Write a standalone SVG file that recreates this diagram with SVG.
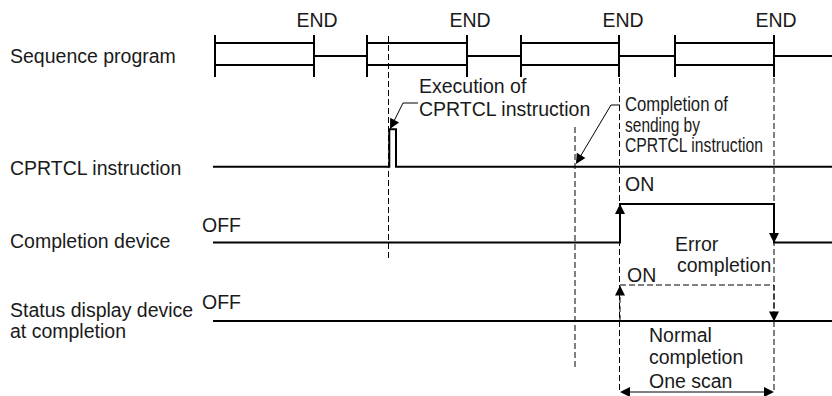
<svg xmlns="http://www.w3.org/2000/svg" width="832" height="396" viewBox="0 0 832 396">
<style>
text{font-family:"Liberation Sans",Arial,sans-serif;font-size:19.5px;fill:#1a1a1a}
.s{fill:none;stroke:#000;stroke-width:2}
.d{fill:none;stroke:#000;stroke-width:1;stroke-dasharray:6 3}
.t{fill:none;stroke:#000;stroke-width:1}
.ah{fill:#000}
</style>
<defs>
<path id="ah" d="M0,0 L-10,-5 L-10,5 Z"/>
</defs>
<rect width="832" height="396" fill="#fff"/>

<g id="labels">
<text x="10" y="63">Sequence program</text>
<text x="10" y="175">CPRTCL instruction</text>
<text x="10" y="248">Completion device</text>
<text x="10" y="317">Status display device</text>
<text x="10" y="338">at completion</text>
</g>

<g id="end-labels" text-anchor="middle">
<text x="317" y="27">END</text>
<text x="470" y="27">END</text>
<text x="623" y="27">END</text>
<text x="776" y="27">END</text>
</g>

<g id="guides">
<line class="d" x1="388.5" y1="36" x2="388.5" y2="258"/>
<line class="d" x1="575" y1="127" x2="575" y2="368"/>
<line class="d" x1="619.5" y1="78" x2="619.5" y2="392"/>
<line class="d" x1="774" y1="78" x2="774" y2="392"/>
</g>

<g id="sequence-program">
<path class="s" d="M215,43 H314 M215,65 H314 M314,56 H367 M367,43 H467 M367,65 H467 M467,56 H521 M521,43 H619 M521,65 H619 M619,56 H675 M675,43 H774 M675,65 H774 M774,56 H832"/>
<path class="s" d="M215,35 V77 M314,35 V77 M367,35 V77 M467,35 V77 M521,35 V77 M619,35 V77 M675,35 V77 M774,35 V77"/>
</g>

<g id="cprtcl-instruction">
<path class="s" d="M213,166.7 H389.3 V129.3 H396 V166.7 H832"/>
</g>

<g id="completion-device">
<text x="202" y="232">OFF</text>
<text x="625" y="191">ON</text>
<path class="s" d="M213,242.5 H620 V204 H774 V242.5 H832"/>
<text x="675" y="251">Error</text>
<text x="677" y="272">completion</text>
</g>

<g id="status-display-device">
<text x="202" y="309">OFF</text>
<text x="627" y="282">ON</text>
<line class="s" x1="213" y1="321" x2="832" y2="321"/>
<path class="d" d="M620,321 V285 H774 V321"/>
<text x="649" y="342">Normal</text>
<text x="649" y="364">completion</text>
</g>

<g id="execution-note">
<text x="419" y="93">Execution of</text>
<text x="419" y="116">CPRTCL instruction</text>
</g>

<g id="completion-note">
<text x="625" y="111" textLength="103" lengthAdjust="spacingAndGlyphs">Completion of</text>
<text x="625" y="131.5" textLength="75" lengthAdjust="spacingAndGlyphs">sending by</text>
<text x="625" y="152" textLength="138" lengthAdjust="spacingAndGlyphs">CPRTCL instruction</text>
</g>

<g id="scan-note">
<text x="649" y="388">One scan</text>
</g>

<g id="connectors">
<path class="t" d="M418,103 H403 L391,127"/>
<use href="#ah" class="ah" transform="translate(390,129) rotate(117.5)"/>
<path class="t" d="M620,105 H611 L577,162"/>
<use href="#ah" class="ah" transform="translate(576,164) rotate(120.7)"/>
<use href="#ah" class="ah" transform="translate(620,204) rotate(-90)"/>
<use href="#ah" class="ah" transform="translate(774,243) rotate(90)"/>
<use href="#ah" class="ah" transform="translate(620,285.5) rotate(-90)"/>
<use href="#ah" class="ah" transform="translate(774,321.5) rotate(90)"/>
<line class="t" x1="624" y1="392" x2="770" y2="392" stroke-width="1.5"/>
<use href="#ah" class="ah" transform="translate(620,392) rotate(180)"/>
<use href="#ah" class="ah" transform="translate(774,392)"/>
</g>
</svg>
